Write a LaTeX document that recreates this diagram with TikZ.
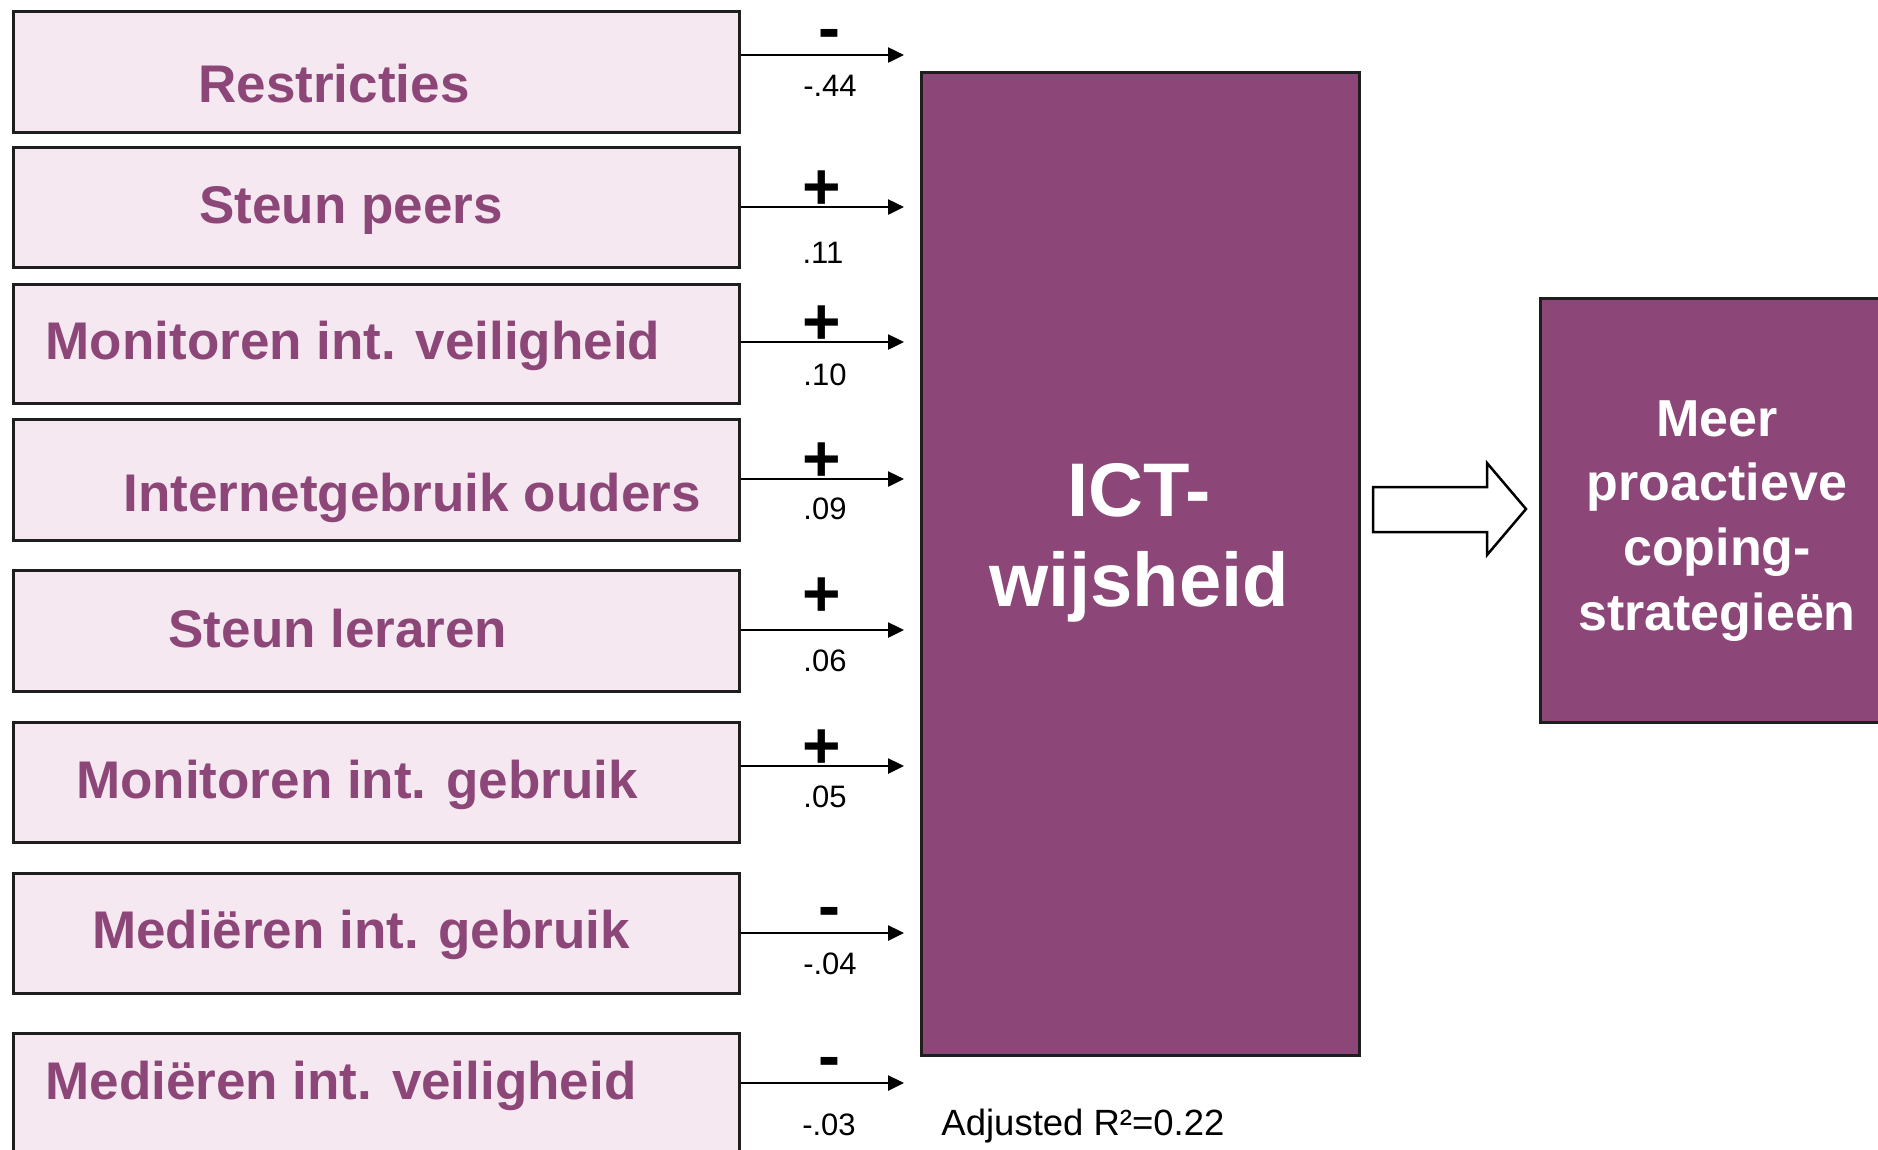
\documentclass[tikz,border=0pt]{standalone}
\usepackage{fontspec}
\setmainfont{Liberation Sans}
\usetikzlibrary{arrows.meta}
\definecolor{purp}{RGB}{140,70,120}
\definecolor{pinkfill}{RGB}{245,232,241}
\definecolor{edgecol}{RGB}{30,30,30}
\begin{document}
\begin{tikzpicture}[x=1pt,y=-1pt,
  predbox/.style={draw=edgecol,line width=2.5pt,fill=pinkfill,minimum width=726pt,inner sep=0pt,anchor=north west},
  predlabel/.style={text=purp,font=\fontsize{53}{60}\selectfont\bfseries,anchor=base,inner sep=0pt},
  conn/.style={draw=black,line width=2.5pt,-{Triangle[length=16pt,width=15pt]}},
  sgn/.style={font=\fontsize{66}{70}\selectfont\bfseries,anchor=base,inner sep=0pt},
  coef/.style={font=\fontsize{31}{35}\selectfont,anchor=base,inner sep=0pt},
  bigbox/.style={draw=edgecol,line width=2.5pt,fill=purp,inner sep=0pt,anchor=north west},
  ictlabel/.style={text=white,font=\fontsize{76}{90}\selectfont\bfseries,anchor=base,inner sep=0pt},
  meerlabel/.style={text=white,font=\fontsize{52}{64}\selectfont\bfseries,anchor=base,inner sep=0pt},
  hollow/.style={draw=black,line width=2.5pt,fill=white,line join=miter}
]
\useasboundingbox (0,0) rectangle (1878,1149);
\clip (0,0) rectangle (1878,1149);
\fill[white] (0,0) rectangle (1878,1149);

% predictor boxes
\node[predbox,minimum height=121pt] (b1) at (12,10) {};
\node[predbox,minimum height=120pt] (b2) at (12,146) {};
\node[predbox,minimum height=119pt] (b3) at (12,283) {};
\node[predbox,minimum height=121pt] (b4) at (12,418) {};
\node[predbox,minimum height=121pt] (b5) at (12,569) {};
\node[predbox,minimum height=120pt] (b6) at (12,721) {};
\node[predbox,minimum height=120pt] (b7) at (12,872) {};
\node[predbox,minimum height=140pt] (b8) at (12,1032) {};

\node[predlabel] (l1) at (334,102) {Restricties};
\node[predlabel] (l2) at (351,223) {Steun peers};
\node[predlabel] (l3) at (353,359) {Monitoren int. veiligheid};
\node[predlabel] (l4) at (412,511) {Internetgebruik ouders};
\node[predlabel] (l5) at (338,647) {Steun leraren};
\node[predlabel] (l6) at (357,798) {Monitoren int. gebruik};
\node[predlabel] (l7) at (361,948) {Mediëren int. gebruik};
\node[predlabel] (l8) at (341,1099) {Mediëren int. veiligheid};

% ICT box
\node[bigbox,minimum width=438pt,minimum height=983pt] (ict) at (920,71) {};
\node[ictlabel] (ict1) at (1139,516) {ICT-};
\node[ictlabel] (ict2) at (1139,606) {wijsheid};

% outcome box
\node[bigbox,minimum width=360pt,minimum height=424pt] (meer) at (1539,297) {};
\node[meerlabel] (m1) at (1717,436) {Meer};
\node[meerlabel] (m2) at (1717,500) {proactieve};
\node[meerlabel] (m3) at (1717,565) {coping-};
\node[meerlabel] (m4) at (1717,630) {strategieën};

% arrow ends
\coordinate (t1) at (904,55);
\coordinate (t2) at (904,207);
\coordinate (t3) at (904,342);
\coordinate (t4) at (904,479);
\coordinate (t5) at (904,630);
\coordinate (t6) at (904,766);
\coordinate (t7) at (904,933);
\coordinate (t8) at (904,1083);

\draw[conn] (b1.east |- t1) -- (t1);
\draw[conn] (b2.east |- t2) -- (t2);
\draw[conn] (b3.east |- t3) -- (t3);
\draw[conn] (b4.east |- t4) -- (t4);
\draw[conn] (b5.east |- t5) -- (t5);
\draw[conn] (b6.east |- t6) -- (t6);
\draw[conn] (b7.east |- t7) -- (t7);
\draw[conn] (b8.east |- t8) -- (t8);

% signs
\node[sgn] (s1) at (829,50) {-};
\node[sgn] (s2) at (821.5,209) {+};
\node[sgn] (s3) at (821.5,344) {+};
\node[sgn] (s4) at (821.5,481) {+};
\node[sgn] (s5) at (821.5,616) {+};
\node[sgn] (s6) at (821.5,768) {+};
\node[sgn] (s7) at (829,928) {-};
\node[sgn] (s8) at (829,1078) {-};

% coefficients
\node[coef] (c1) at (830,96) {-.44};
\node[coef] (c2) at (823,263) {.11};
\node[coef] (c3) at (825,385) {.10};
\node[coef] (c4) at (825,519) {.09};
\node[coef] (c5) at (825,671) {.06};
\node[coef] (c6) at (825,807) {.05};
\node[coef] (c7) at (830,974) {-.04};
\node[coef] (c8) at (829,1135) {-.03};

% R squared
\node[anchor=base,inner sep=0pt,font=\fontsize{36.5}{40}\selectfont] (r2) at (1083,1135) {Adjusted R²=0.22};

% hollow arrow between ICT and outcome
\draw[hollow] (1373,487) -- (1487,487) -- (1487,463) -- (1526,509) -- (1487,555) -- (1487,532) -- (1373,532) -- cycle;
\end{tikzpicture}
\end{document}
